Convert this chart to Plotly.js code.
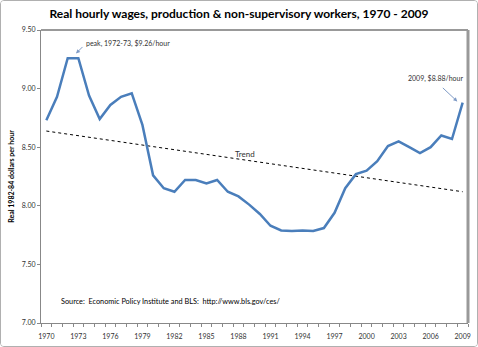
<!DOCTYPE html>
<html>
<head>
<meta charset="utf-8">
<script src="https://cdn.plot.ly/plotly-3.0.1.min.js"></script>
<style>
html,body{margin:0;padding:0;background:#fff;}
#wrap{width:476px;height:345px;border:1px solid #b0b0b0;border-radius:4px;overflow:hidden;}
#chart{width:476px;height:345px;}
</style>
</head>
<body>
<div id="wrap"><div id="chart"></div></div>
<script>
const years = [1970,1971,1972,1973,1974,1975,1976,1977,1978,1979,1980,1981,1982,1983,1984,1985,1986,1987,1988,1989,1990,1991,1992,1993,1994,1995,1996,1997,1998,1999,2000,2001,2002,2003,2004,2005,2006,2007,2008,2009];
const wages = [8.73,8.93,9.26,9.26,8.94,8.74,8.86,8.93,8.96,8.69,8.26,8.15,8.12,8.22,8.22,8.19,8.22,8.12,8.08,8.01,7.93,7.83,7.79,7.785,7.79,7.785,7.81,7.94,8.15,8.27,8.30,8.38,8.51,8.55,8.50,8.45,8.50,8.60,8.57,8.88];
const trendYears = [1970, 2009];
const trendValues = [8.638, 8.12];
const labelYears = [1970,1973,1976,1979,1982,1985,1988,1991,1994,1997,2000,2003,2006,2009];
const yTicks = [7.00,7.50,8.00,8.50,9.00,9.50];

const FONT = 'Lato, "Liberation Sans", sans-serif';

const traces = [
  {x: trendYears, y: trendValues, type: 'scatter', mode: 'lines',
   line: {color: '#000000', width: 1, dash: 'dot'}, hoverinfo: 'skip'},
  {x: years, y: wages, type: 'scatter', mode: 'lines',
   line: {color: '#4a7ebb', width: 2.5}}
];

const minorTicks = [];
for (let i = 0; i <= years.length; i++) minorTicks.push(years[0] - 0.5 + i);

const layout = {
  width: 476, height: 345,
  margin: {l: 40, r: 9, t: 29, b: 23},
  paper_bgcolor: '#ffffff', plot_bgcolor: '#ffffff',
  showlegend: false,
  font: {family: FONT, color: '#333'},
  title: {text: '<b>Real hourly wages, production &amp; non-supervisory workers, 1970 - 2009</b>',
          font: {family: FONT, size: 12, color: '#000'}, x: 0.5, xanchor: 'center', y: 0.962, yanchor: 'middle'},
  xaxis: {
    range: [1969.5, 2009.5], tickmode: 'array', tickvals: labelYears, ticktext: labelYears.map(String),
    ticks: '', showgrid: false, zeroline: false, ticklabelstandoff: 7,
    showline: true, linecolor: '#888', linewidth: 1,
    tickfont: {family: FONT, size: 7, color: '#333'},
    minor: {tickmode: 'array', tickvals: minorTicks, ticks: 'outside', ticklen: 3, tickcolor: '#888', showgrid: false}
  },
  yaxis: {
    range: [7, 9.5], tickmode: 'array', tickvals: yTicks, tickformat: '.2f',
    ticks: 'outside', ticklen: 3, tickcolor: '#888', showgrid: false, zeroline: false,
    showline: true, linecolor: '#888', linewidth: 1,
    tickfont: {family: FONT, size: 7, color: '#333'},
    title: {text: '<b>Real 1982-84 dollars per hour</b>', font: {family: FONT, size: 7, color: '#000'}, standoff: 6}
  },
  shapes: [
    {type: 'line', xref: 'paper', yref: 'paper', x0: 0, x1: 1, y0: 1, y1: 1, line: {color: '#999', width: 2}},
    {type: 'line', xref: 'paper', yref: 'paper', x0: 1, x1: 1, y0: 0, y1: 1, line: {color: '#999', width: 3}}
  ],
  annotations: [
    {x: 1972.78, y: 9.30, xref: 'x', yref: 'y', text: '', showarrow: true, ax: 8, ay: -8,
     arrowhead: 2, arrowsize: 0.8, arrowwidth: 1, arrowcolor: '#7f9bc6'},
    {x: 1973.5, y: 9.385, xref: 'x', yref: 'y', text: 'peak, 1972-73, $9.26/hour', showarrow: false,
     xanchor: 'left', yanchor: 'middle', font: {family: FONT, size: 7, color: '#333'}},
    {x: 2008.5, y: 8.89, xref: 'x', yref: 'y', text: '', showarrow: true, ax: -16, ay: -15,
     arrowhead: 2, arrowsize: 0.8, arrowwidth: 1, arrowcolor: '#7f9bc6'},
    {x: 2006.5, y: 9.085, xref: 'x', yref: 'y', text: '2009, $8.88/hour', showarrow: false,
     xanchor: 'center', yanchor: 'middle', font: {family: FONT, size: 7, color: '#333'}},
    {x: 1988.6, y: 8.44, xref: 'x', yref: 'y', text: 'Trend', showarrow: false,
     xanchor: 'center', yanchor: 'middle', font: {family: FONT, size: 8, color: '#333'}},
    {x: 1971.2, y: 7.18, xref: 'x', yref: 'y', text: 'Source:  Economic Policy Institute and BLS:  http://www.bls.gov/ces/', showarrow: false,
     xanchor: 'left', yanchor: 'middle', font: {family: FONT, size: 7.3, color: '#000'}}
  ]
};

Plotly.newPlot('chart', traces, layout, {displayModeBar: false, staticPlot: true});
</script>
</body>
</html>
